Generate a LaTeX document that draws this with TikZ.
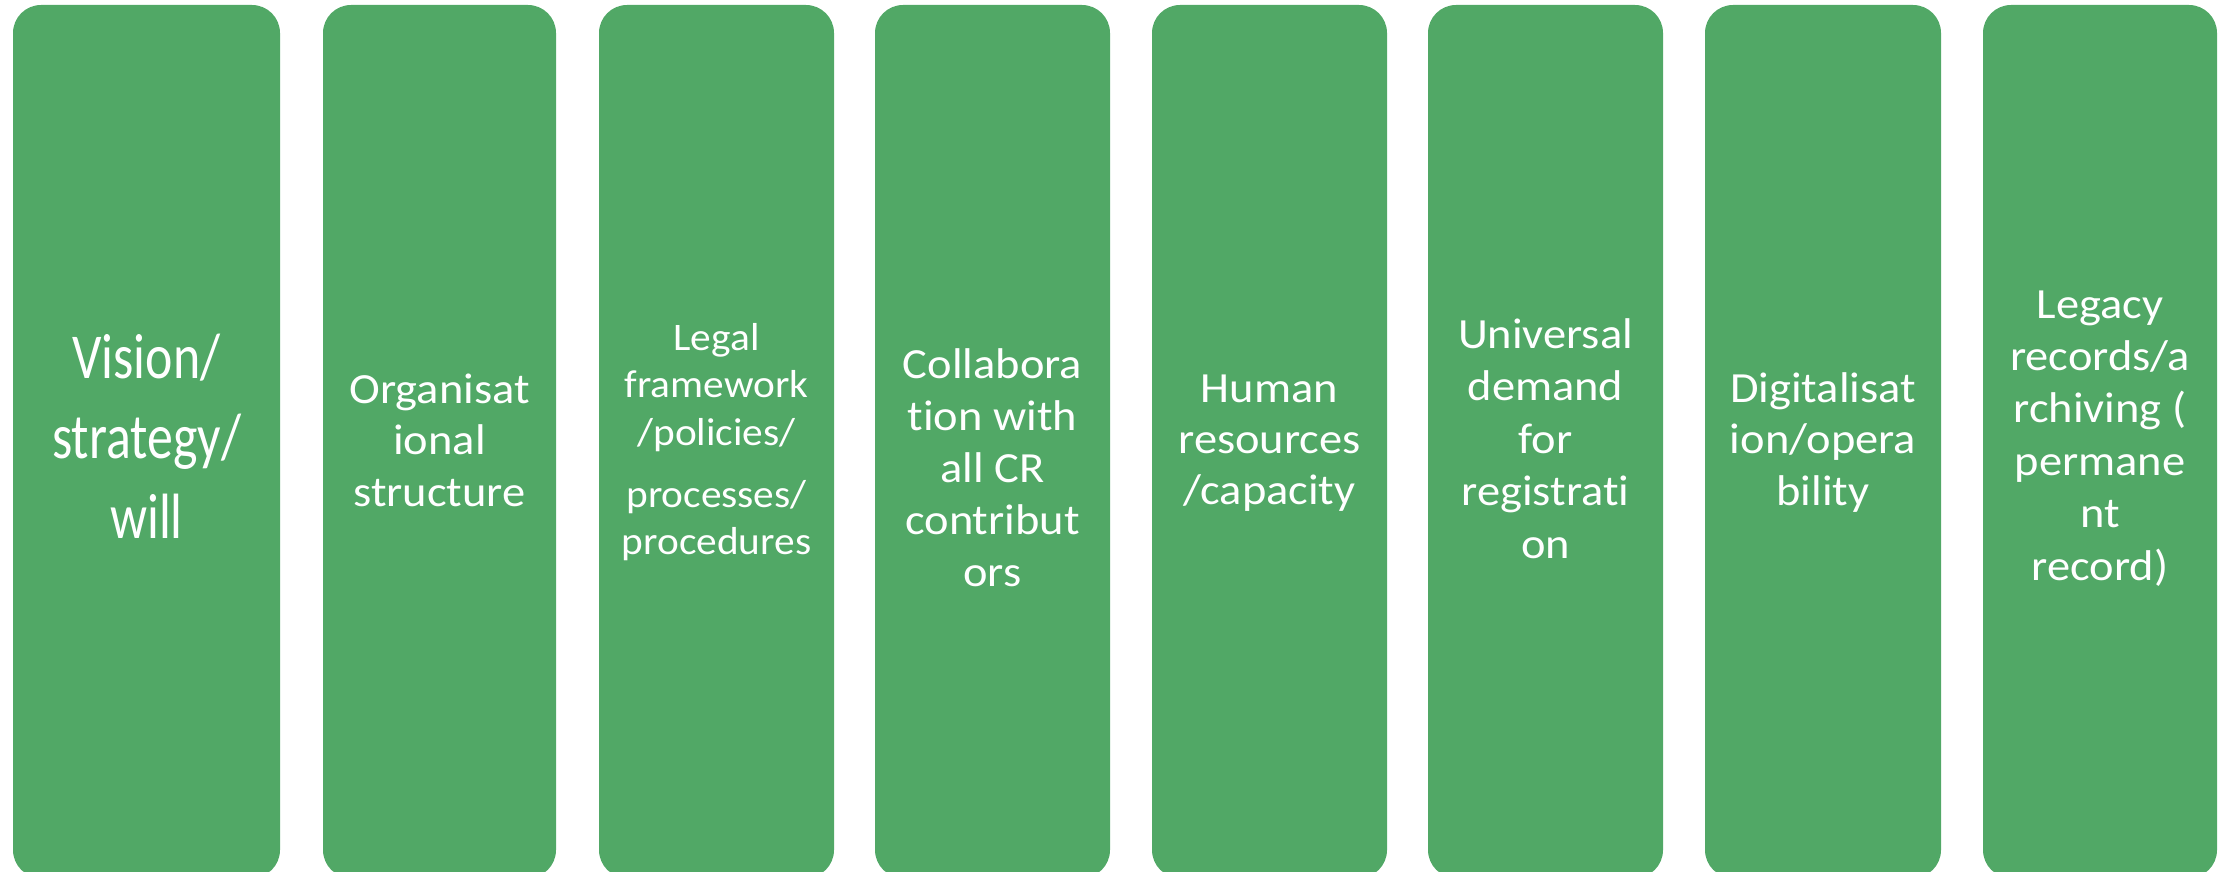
\documentclass[tikz,border=0pt]{standalone}
\usepackage{fontspec}
\usepackage{graphicx}
\setmainfont{Carlito}[Ligatures={NoCommon,NoContextual,NoRequired},RawFeature={-clig}]
\definecolor{boxgreen}{RGB}{81,168,102}
\newcommand\boxtext[4]{\scalebox{#1}[1]{\fontsize{#2}{#3}\selectfont\begin{tabular}[t]{@{}c@{}}#4\end{tabular}}}
\tikzset{
  gbox/.style={fill=boxgreen, draw=none, rounded corners=28pt, inner sep=0pt, outer sep=0pt, minimum height=873pt},
  lbl/.style={anchor=base, inner sep=0pt, outer sep=0pt, text=white}
}
\begin{document}
\begin{tikzpicture}[x=1pt, y=-1pt]
\useasboundingbox (0,0) rectangle (2231,872);
\clip (0,0) rectangle (2231,872);
\node[gbox, minimum width=267pt] (b1) at (146.5,441.5) {};
\node[gbox, minimum width=233pt] (b2) at (439.5,441.5) {};
\node[gbox, minimum width=235pt] (b3) at (716.5,441.5) {};
\node[gbox, minimum width=235pt] (b4) at (992.5,441.5) {};
\node[gbox, minimum width=235pt] (b5) at (1269.5,441.5) {};
\node[gbox, minimum width=235pt] (b6) at (1545.5,441.5) {};
\node[gbox, minimum width=236pt] (b7) at (1823,441.5) {};
\node[gbox, minimum width=234pt] (b8) at (2100,441.5) {};

\node[lbl] (t1) at (146.5,378) {\boxtext{0.81}{64}{80}{Vision/\\strategy/\\will}};
\node[lbl] (t2) at (439.5,403) {\boxtext{1.08}{43}{51.5}{Organisat\\ional\\structure}};
\node[lbl] (t3) at (716.5,350) {\boxtext{1.06}{39}{47.5}{Legal\\framework\\/policies/\\[14.5pt]processes/\\procedures}};
\node[lbl] (t4) at (992.5,378) {\boxtext{1.08}{43}{52}{Collabora\\tion with\\all CR\\contribut\\ors}};
\node[lbl] (t5) at (1269.5,402) {\boxtext{1.08}{43}{51}{Human\\resources\\/capacity}};
\node[lbl] (t6) at (1545.5,348) {\boxtext{1.08}{43}{52.5}{Universal\\demand\\for\\registrati\\on}};
\node[lbl] (t7) at (1823,402) {\boxtext{1.08}{43}{51.5}{Digitalisat\\ion/opera\\bility}};
\node[lbl] (t8) at (2100,318) {\boxtext{1.08}{43}{52.4}{Legacy\\records/a\\rchiving (\\permane\\nt\\record)}};
\end{tikzpicture}
\end{document}
